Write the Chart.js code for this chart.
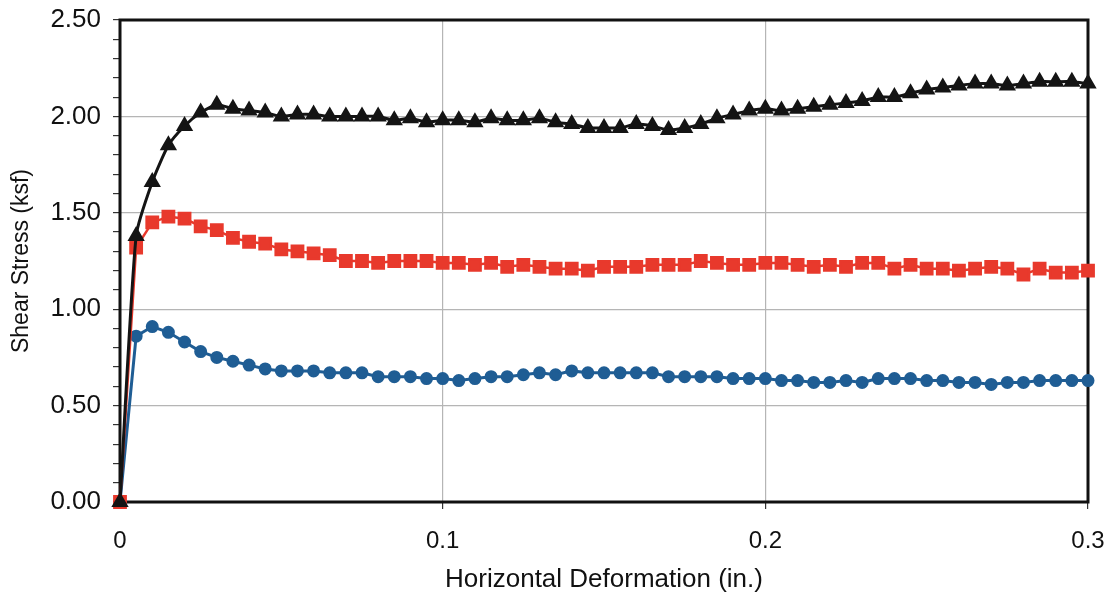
<!DOCTYPE html>
<html lang="en">
  <head>
    <meta charset="UTF-8" />
    <title>Shear Stress vs Horizontal Deformation</title>
    <script src="https://cdn.jsdelivr.net/npm/chart.js"></script>
    <style>
      * {
        margin: 0;
        padding: 0;
        box-sizing: border-box;
      }

      body {
        background: #ffffff;
        font-family: "Liberation Sans", Arial, sans-serif;
      }

      #shearChart {
        display: block;
      }
    </style>
  </head>
  <body>
    <canvas id="shearChart" width="1107" height="600"></canvas>

    <script>
      // horizontal deformation readings (in.)
      const deformation = [
        0, 0.005, 0.01, 0.015, 0.02, 0.025, 0.03, 0.035, 0.04, 0.045, 0.05,
        0.055, 0.06, 0.065, 0.07, 0.075, 0.08, 0.085, 0.09, 0.095, 0.1,
        0.105, 0.11, 0.115, 0.12, 0.125, 0.13, 0.135, 0.14, 0.145, 0.15,
        0.155, 0.16, 0.165, 0.17, 0.175, 0.18, 0.185, 0.19, 0.195, 0.2,
        0.205, 0.21, 0.215, 0.22, 0.225, 0.23, 0.235, 0.24, 0.245, 0.25,
        0.255, 0.26, 0.265, 0.27, 0.275, 0.28, 0.285, 0.29, 0.295, 0.3,
      ];

      // shear stress (ksf) for each normal load
      const stressHigh = [
        0, 1.38, 1.66, 1.85, 1.95, 2.02, 2.06, 2.04, 2.03, 2.02, 2.0, 2.01,
        2.01, 2.0, 2.0, 2.0, 2.0, 1.98, 1.99, 1.97, 1.98,
        1.98, 1.97, 1.99, 1.98, 1.98, 1.99, 1.97, 1.96, 1.94, 1.94, 1.94,
        1.96, 1.95, 1.93, 1.94, 1.96, 1.99, 2.01, 2.03, 2.04,
        2.03, 2.04, 2.05, 2.06, 2.07, 2.08, 2.1, 2.1, 2.12, 2.14, 2.15, 2.16,
        2.17, 2.17, 2.16, 2.17, 2.18, 2.18, 2.18, 2.17,
      ];
      const stressMid = [
        0, 1.32, 1.45, 1.48, 1.47, 1.43, 1.41, 1.37, 1.35, 1.34, 1.31, 1.3,
        1.29, 1.28, 1.25, 1.25, 1.24, 1.25, 1.25, 1.25, 1.24,
        1.24, 1.23, 1.24, 1.22, 1.23, 1.22, 1.21, 1.21, 1.2, 1.22, 1.22, 1.22,
        1.23, 1.23, 1.23, 1.25, 1.24, 1.23, 1.23, 1.24,
        1.24, 1.23, 1.22, 1.23, 1.22, 1.24, 1.24, 1.21, 1.23, 1.21, 1.21, 1.2,
        1.21, 1.22, 1.21, 1.18, 1.21, 1.19, 1.19, 1.2,
      ];
      const stressLow = [
        0, 0.86, 0.91, 0.88, 0.83, 0.78, 0.75, 0.73, 0.71, 0.69, 0.68, 0.68,
        0.68, 0.67, 0.67, 0.67, 0.65, 0.65, 0.65, 0.64, 0.64,
        0.63, 0.64, 0.65, 0.65, 0.66, 0.67, 0.66, 0.68, 0.67, 0.67, 0.67, 0.67,
        0.67, 0.65, 0.65, 0.65, 0.65, 0.64, 0.64, 0.64,
        0.63, 0.63, 0.62, 0.62, 0.63, 0.62, 0.64, 0.64, 0.64, 0.63, 0.63, 0.62,
        0.62, 0.61, 0.62, 0.62, 0.63, 0.63, 0.63, 0.63,
      ];

      const xTicks = [0, 0.1, 0.2, 0.3];
      const yLabelStep = 0.5;

      const FONT = "'Liberation Sans', Arial, sans-serif";

      function toPoints(values) {
        return values.map((v, i) => ({ x: deformation[i], y: v }));
      }

      // black frame round the plot area
      const framePlugin = {
        id: "frame",
        beforeDatasetsDraw(chart) {
          const { ctx, chartArea: a } = chart;
          ctx.save();
          ctx.strokeStyle = "#111111";
          ctx.lineWidth = 3;
          ctx.strokeRect(a.left, a.top, a.right - a.left, a.bottom - a.top);
          ctx.restore();
        },
      };

      const isMajor = (v) => Math.abs(v / yLabelStep - Math.round(v / yLabelStep)) < 1e-6;

      new Chart(document.getElementById("shearChart"), {
        type: "line",
        data: {
          datasets: [
            {
              label: "High load",
              data: toPoints(stressHigh),
              borderColor: "#141414",
              backgroundColor: "#141414",
              borderWidth: 3,
              pointStyle: "triangle",
              pointRadius: 7,
              tension: 0.2,
              clip: false,
            },
            {
              label: "Mid load",
              data: toPoints(stressMid),
              borderColor: "#e8392c",
              backgroundColor: "#e8392c",
              borderWidth: 2.5,
              pointStyle: "rect",
              pointRadius: 8,
              tension: 0,
              clip: false,
            },
            {
              label: "Low load",
              data: toPoints(stressLow),
              borderColor: "#1f5d94",
              backgroundColor: "#1f5d94",
              borderWidth: 3,
              pointStyle: "circle",
              pointRadius: 5,
              tension: 0,
              clip: false,
            },
          ],
        },
        options: {
          responsive: false,
          animation: false,
          layout: { padding: { top: 20, right: 19, left: 0, bottom: 0 } },
          plugins: {
            legend: { display: false },
            tooltip: { enabled: false },
          },
          scales: {
            x: {
              type: "linear",
              min: 0,
              max: 0.3,
              afterBuildTicks(scale) {
                scale.ticks = xTicks.map((v) => ({ value: v }));
              },
              afterFit(scale) {
                scale.height = 98;
                scale.paddingLeft = 0;
                scale.paddingRight = 0;
              },
              ticks: {
                color: "#111111",
                font: { family: FONT, size: 24 },
                padding: 18,
                callback: (v) => String(Math.round(v * 10) / 10),
              },
              grid: {
                color: (c) =>
                  c.tick && c.tick.value > 0 && c.tick.value < 0.3 ? "#b5b5b5" : "rgba(0,0,0,0)",
                tickColor: "#333333",
                tickLength: 7,
                lineWidth: 1.2,
              },
              border: { display: false },
              title: {
                display: true,
                text: "Horizontal Deformation (in.)",
                color: "#111111",
                font: { family: FONT, size: 26 },
                padding: { top: 0, bottom: 5 },
              },
            },
            y: {
              min: 0,
              max: 2.5,
              afterFit(scale) {
                scale.width = 120;
                scale.paddingTop = 0;
                scale.paddingBottom = 0;
              },
              ticks: {
                stepSize: 0.1,
                autoSkip: false,
                color: "#111111",
                font: { family: FONT, size: 26 },
                padding: 12,
                callback: (v) => (isMajor(v) ? v.toFixed(2) : ""),
              },
              grid: {
                color: (c) =>
                  c.tick && isMajor(c.tick.value) && c.tick.value > 0 && c.tick.value < 2.5
                    ? "#b5b5b5"
                    : "rgba(0,0,0,0)",
                tickColor: "#333333",
                tickLength: 7,
                lineWidth: 1.2,
              },
              border: { display: false },
              title: {
                display: true,
                text: "Shear Stress (ksf)",
                color: "#111111",
                font: { family: FONT, size: 23 },
                padding: { top: 8, bottom: 0 },
              },
            },
          },
        },
        plugins: [framePlugin],
      });
    </script>
  </body>
</html>
